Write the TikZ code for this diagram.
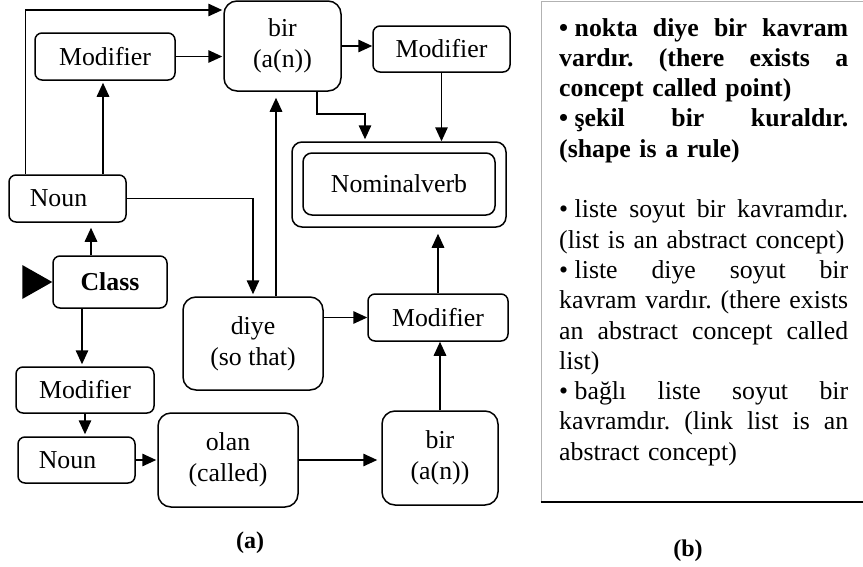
\documentclass[tikz,border=0pt]{standalone}
\usepackage{fontspec}
\setmainfont{Liberation Serif}
\usetikzlibrary{arrows.meta,calc}
\newcommand{\myfont}{\fontsize{25.8pt}{31pt}\selectfont}
\newcommand{\boxfont}{\fontsize{25.8pt}{30.3pt}\selectfont}
\newcommand{\labfont}{\fontsize{24pt}{28pt}\selectfont}
\newcommand{\bul}{•\kern0.25em}
\newcommand{\jline}[1]{\hbox to 289pt{#1}}
\newcommand{\jsp}{\hfill}
\frenchspacing
\begin{document}
\begin{tikzpicture}[x=1pt,y=-1pt,
  rbox/.style={draw,line width=1.5pt,rounded corners=7pt,inner sep=0pt,align=center,font=\myfont},
  bigbox/.style={rbox,rounded corners=13pt},
  arr/.style={line width=1.5pt,-{Triangle[length=14pt,width=12.5pt]}},
]
\useasboundingbox (0,0) rectangle (863,566);

% nodes
\node[bigbox,minimum width=117pt,minimum height=90pt] (birT) at (282.5,46) {bir\\(a(n))};
\node[rbox,minimum width=140pt,minimum height=47pt] (modTL) at (105,56.5) {Modifier};
\node[rbox,minimum width=137pt,minimum height=46pt] (modTR) at (441.5,49) {Modifier};
\node[rbox,minimum width=117pt,minimum height=47pt] (nounT) at (67.5,198.5) {\hspace*{-18pt}Noun};
\node[rbox,minimum width=114pt,minimum height=52pt] (class) at (110,282) {\bfseries Class};
\node[rbox,rounded corners=10pt,minimum width=214pt,minimum height=85pt] (nomO) at (399,184.5) {};
\node[rbox,rounded corners=9pt,minimum width=192pt,minimum height=62pt] (nomI) at (399,184) {Nominalverb};
\node[rbox,minimum width=140pt,minimum height=47pt] (modM) at (438,317.5) {Modifier};
\node[bigbox,minimum width=140pt,minimum height=93pt] (diye) at (253,343.5) {diye\\(so that)};
\node[rbox,minimum width=138pt,minimum height=46pt] (modB) at (85,390) {Modifier};
\node[rbox,minimum width=117pt,minimum height=46pt] (nounB) at (76.5,460) {\hspace*{-18pt}Noun};
\node[bigbox,minimum width=140pt,minimum height=94pt] (olan) at (228,460) {olan\\(called)};
\node[bigbox,minimum width=116pt,minimum height=94pt] (birB) at (440,458) {bir\\(a(n))};

% entry marker
\fill (class.west) -- ++(-30,-17) -- ++(0,34) -- cycle;

% connectors
\draw[arr,shorten >=1pt] ([xshift=17pt]nounT.north west) |- ([yshift=36pt]birT.west);
\draw[arr,shorten >=1pt] (modTL.east) -- (modTL.east -| birT.west);
\draw[arr,shorten >=2pt] ([xshift=-2pt]modTL.south |- nounT.north) -- ([xshift=-2pt]modTL.south);
\draw[arr,shorten >=5pt] ([xshift=-19pt]class.north) -- ([xshift=-19pt]class.north |- nounT.south);
\draw[arr,shorten >=2pt] (nounT.east) -| (diye.north);
\draw[arr,shorten >=6pt] ([xshift=23pt]diye.north) -- ([xshift=23pt]diye.north |- birT.south);
\draw[arr,shorten >=2pt] ([xshift=34.5pt]birT.south) -- ++(0,22) -| ([xshift=-34pt]nomO.north);
\draw[arr] (birT.east) -- (birT.east -| modTR.west);
\draw[arr] (modTR.south) -- (modTR.south |- nomO.north);
\draw[arr,shorten >=6pt] (modM.north) -- (modM.north |- nomO.south);
\draw[arr] (diye.east |- modM.west) -- (modM.west);
\draw[arr] (birB.north) -- (birB.north |- modM.south);
\draw[arr,shorten >=2pt] ([xshift=-3pt]class.south -| modB.north) -- ([xshift=-3pt]modB.north);
\draw[arr,shorten >=2pt] (modB.south) -- (modB.south |- nounB.north);
\draw[arr,shorten >=1pt] (nounB.east) -- (nounB.east -| olan.west);
\draw[arr,shorten >=4pt] (olan.east) -- (olan.east -| birB.west);

% right panel frame
\coordinate (fTL) at (541,1);
\coordinate (fBR) at (863,502);
\draw[gray!60,line width=1pt] (fTL |- fBR) -- (fTL) -- (fTL -| fBR);
\draw[line width=1.5pt] ([xshift=-0.5pt]fTL |- fBR) -- (fBR);

% right panel text
\node[anchor=base west,inner sep=0pt,text width=289pt,font=\boxfont] (txt) at (559,36) {%
\bfseries
\jline{\bul nokta\jsp diye\jsp bir\jsp kavram}\par
\jline{vardır.\jsp (there\jsp exists\jsp a}\par
concept called point)\par
\jline{\bul şekil\jsp bir\jsp kuraldır.}\par
(shape is a rule)\par
\vspace{30.3pt}
\mdseries
\jline{\bul liste\jsp soyut\jsp bir\jsp kavramdır.}\par
(list is an abstract concept)\par
\jline{\bul liste\jsp diye\jsp soyut\jsp bir}\par
\jline{kavram\jsp vardır.\jsp (there\jsp exists}\par
\jline{an\jsp abstract\jsp concept\jsp called}\par
list)\par
\jline{\bul bağlı\jsp liste\jsp soyut\jsp bir}\par
\jline{kavramdır.\jsp (link\jsp list\jsp is\jsp an}\par
abstract concept)};

% captions
\node[font=\labfont\bfseries] (capA) at (250,543) {(a)};
\node[font=\labfont\bfseries] (capB) at (688,551) {(b)};
\end{tikzpicture}
\end{document}
